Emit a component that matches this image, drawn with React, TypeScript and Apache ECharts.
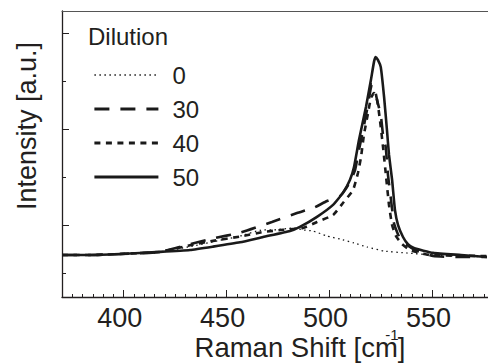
import { useEffect, useRef } from "react";
import * as echarts from "echarts";

const FONT = '"Liberation Sans", Arial, Helvetica, sans-serif';
const INK = "#231f20";

const dilutionNames = ["0", "30", "40", "50"];
const xMajorTicks = [400, 450, 500, 550];
const yMajorTicks = [1.5, 3.5, 5.5];
const yMinorTicks = [0.5, 2.5, 4.5];

// Raman shift [cm^-1], intensity [a.u.]
const dilution0: [number, number][] = [
  [370, 0.875], [383.6, 0.875], [398.2, 0.896], [417.6, 0.94], [432.2, 1.05],
  [443.4, 1.15], [456.5, 1.27], [467.7, 1.4], [472.0, 1.396], [482.7, 1.4375],
  [487.6, 1.396], [492.0, 1.375], [498.8, 1.27], [505.1, 1.208], [511.9, 1.125],
  [518.2, 1.042], [526.5, 0.958], [537.6, 0.917], [550.3, 0.875], [563.9, 0.86],
  [576.5, 0.833],
];

const dilution30: [number, number][] = [
  [370, 0.875], [383.6, 0.875], [398.2, 0.896], [417.6, 0.94], [432.2, 1.1],
  [443.4, 1.22], [456.5, 1.34], [472.0, 1.5625], [484.2, 1.75], [492.0, 1.854],
  [498.8, 2.0], [505.1, 2.104], [507.5, 2.229], [509.9, 2.396], [512.4, 2.646],
  [514.3, 3.0625], [515.8, 3.375], [518.2, 3.896], [519.7, 4.27], [520.6, 4.4375],
  [521.6, 4.417], [523.1, 4.104], [524.9, 3.79], [526.0, 3.375], [527.3, 3.125],
  [528.4, 2.54], [529.7, 2.083], [531.3, 1.54], [532.8, 1.354], [534.6, 1.1875],
  [537.6, 1.083], [541.5, 0.979], [550.3, 0.854], [563.4, 0.833], [576.5, 0.833],
];

const dilution40: [number, number][] = [
  [370, 0.875], [383.6, 0.875], [398.2, 0.896], [417.6, 0.94], [432.2, 1.08],
  [443.4, 1.17], [456.5, 1.26], [467.7, 1.354], [477.4, 1.4], [487.1, 1.4375],
  [493.9, 1.5625], [501.7, 1.708], [506.5, 1.958], [511.4, 2.229], [513.8, 2.583],
  [515.3, 2.917], [516.7, 3.375], [518.7, 3.833], [520.1, 4.146], [521.6, 4.25],
  [523.1, 4.104], [524.5, 3.6875], [526.0, 3.125], [527.4, 2.54], [528.9, 1.917],
  [530.4, 1.5], [532.3, 1.27], [535.2, 1.104], [539.1, 0.979], [548.8, 0.875],
  [576.5, 0.854],
];

const dilution50: [number, number][] = [
  [370, 0.875], [383.6, 0.875], [398.2, 0.896], [417.6, 0.94], [432.2, 0.98],
  [443.4, 1.05], [456.5, 1.14], [467.7, 1.25], [480.8, 1.375], [485.6, 1.46],
  [493.9, 1.67], [501.7, 1.92], [506.5, 2.17], [509.9, 2.44], [511.9, 2.71],
  [514.3, 3.27], [517.7, 3.96], [520.1, 4.52], [521.6, 4.9], [522.4, 5.0],
  [523.5, 4.94], [524.9, 4.79], [526.5, 4.17], [527.9, 3.48], [528.9, 2.96],
  [530.4, 2.44], [531.8, 1.81], [533.3, 1.5], [535.7, 1.25], [538.1, 1.1],
  [541.0, 1.02], [550.3, 0.92], [563.9, 0.875], [576.5, 0.833],
];

const seriesData = [dilution0, dilution30, dilution40, dilution50];
const seriesLineStyles = [
  { width: 1.3, type: [1.5, 3.5] as number[] | string },
  { width: 2.6, type: [15, 11] as number[] | string },
  { width: 2.6, type: [6, 5.5] as number[] | string },
  { width: 2.6, type: "solid" as number[] | string },
];

export default function App() {
  const ref = useRef<HTMLDivElement>(null);

  useEffect(() => {
    if (!ref.current) return;
    const chart = echarts.init(ref.current, undefined, { renderer: "svg" });

    const minorX: number[] = [];
    for (let v = 375; v <= 575; v += 5) if (v % 50 !== 0) minorX.push(v);

    chart.setOption({
      animation: false,
      backgroundColor: "#ffffff",
      grid: { left: 62, top: 11, right: 0, bottom: 66, containLabel: false },
      xAxis: [
        {
          type: "value",
          min: 370,
          max: 577,
          position: "bottom",
          axisLine: { show: true, onZero: false, lineStyle: { color: INK, width: 1.3 } },
          axisTick: {
            show: true,
            inside: true,
            length: 7,
            customValues: xMajorTicks,
            lineStyle: { color: INK, width: 1 },
          },
          axisLabel: {
            show: true,
            customValues: xMajorTicks,
            fontSize: 27,
            lineHeight: 20,
            fontFamily: FONT,
            color: INK,
            margin: 11,
            padding: [0, 8, 0, 0],
          },
          splitLine: { show: false },
        },
        {
          type: "value",
          min: 370,
          max: 577,
          position: "bottom",
          axisLine: { show: false, onZero: false },
          axisTick: {
            show: true,
            inside: true,
            length: 3,
            customValues: minorX,
            lineStyle: { color: INK, width: 1 },
          },
          axisLabel: { show: false },
          splitLine: { show: false },
        },
        {
          type: "value",
          min: 370,
          max: 577,
          position: "top",
          axisLine: { show: true, onZero: false, lineStyle: { color: "#555", width: 1 } },
          axisTick: { show: false },
          axisLabel: { show: false },
          splitLine: { show: false },
        },
      ],
      yAxis: [
        {
          type: "value",
          min: 0,
          max: 5.96,
          position: "left",
          axisLine: { show: true, onZero: false, lineStyle: { color: INK, width: 1.3 } },
          axisTick: {
            show: true,
            inside: true,
            length: 7,
            customValues: yMajorTicks,
            lineStyle: { color: INK, width: 1 },
          },
          axisLabel: { show: false },
          splitLine: { show: false },
        },
        {
          type: "value",
          min: 0,
          max: 5.96,
          position: "left",
          axisLine: { show: false, onZero: false },
          axisTick: {
            show: true,
            inside: true,
            length: 4,
            customValues: yMinorTicks,
            lineStyle: { color: INK, width: 1 },
          },
          axisLabel: { show: false },
          splitLine: { show: false },
        },
      ],
      legend: {
        orient: "vertical",
        left: 88,
        top: 58,
        itemWidth: 64,
        itemHeight: 24,
        itemGap: 10,
        selectedMode: false,
        lineStyle: { width: 2.8, color: "#1a1a1a" },
        data: dilutionNames.map((n, i) => ({
          name: n,
          lineStyle: {
            width: i === 0 ? 1.3 : 2.8,
            type: seriesLineStyles[i].type,
            color: "#1a1a1a",
            cap: "butt",
          },
        })),
        itemStyle: { opacity: 0, borderWidth: 0 },
        textStyle: {
          fontSize: 24,
          fontFamily: FONT,
          color: INK,
          padding: [0, 0, 0, 9],
        },
      },
      graphic: [
        {
          type: "text",
          x: 88,
          y: 36,
          style: {
            text: "Dilution",
            font: `24px ${FONT}`,
            fill: INK,
            align: "left",
            verticalAlign: "middle",
          },
        },
        {
          type: "text",
          x: 27,
          y: 126,
          rotation: Math.PI / 2,
          style: {
            text: "Intensity [a.u.]",
            font: `27px ${FONT}`,
            fill: INK,
            align: "center",
            verticalAlign: "middle",
          },
        },
        {
          type: "text",
          x: 300,
          y: 347,
          style: {
            text: "Raman Shift [cm]",
            font: `27.5px ${FONT}`,
            lineHeight: 20,
            fill: INK,
            align: "center",
            verticalAlign: "middle",
          },
        },
        {
          type: "text",
          x: 392,
          y: 334,
          style: {
            text: "-1",
            font: `15px ${FONT}`,
            fill: INK,
            align: "center",
            verticalAlign: "middle",
          },
        },
      ],
      series: seriesData.map((d, i) => ({
        name: dilutionNames[i],
        type: "line",
        xAxisIndex: 0,
        yAxisIndex: 0,
        data: d,
        symbol: "none",
        smooth: 0.15,
        lineStyle: { color: "#1a1a1a", width: seriesLineStyles[i].width, type: seriesLineStyles[i].type, cap: "butt" },
        itemStyle: { color: "#1a1a1a" },
        z: 2 + i,
      })),
    });

    return () => chart.dispose();
  }, []);

  return (
    <div
      ref={ref}
      style={{ position: "fixed", left: 0, top: 0, width: 488, height: 363, background: "#fff" }}
    />
  );
}
